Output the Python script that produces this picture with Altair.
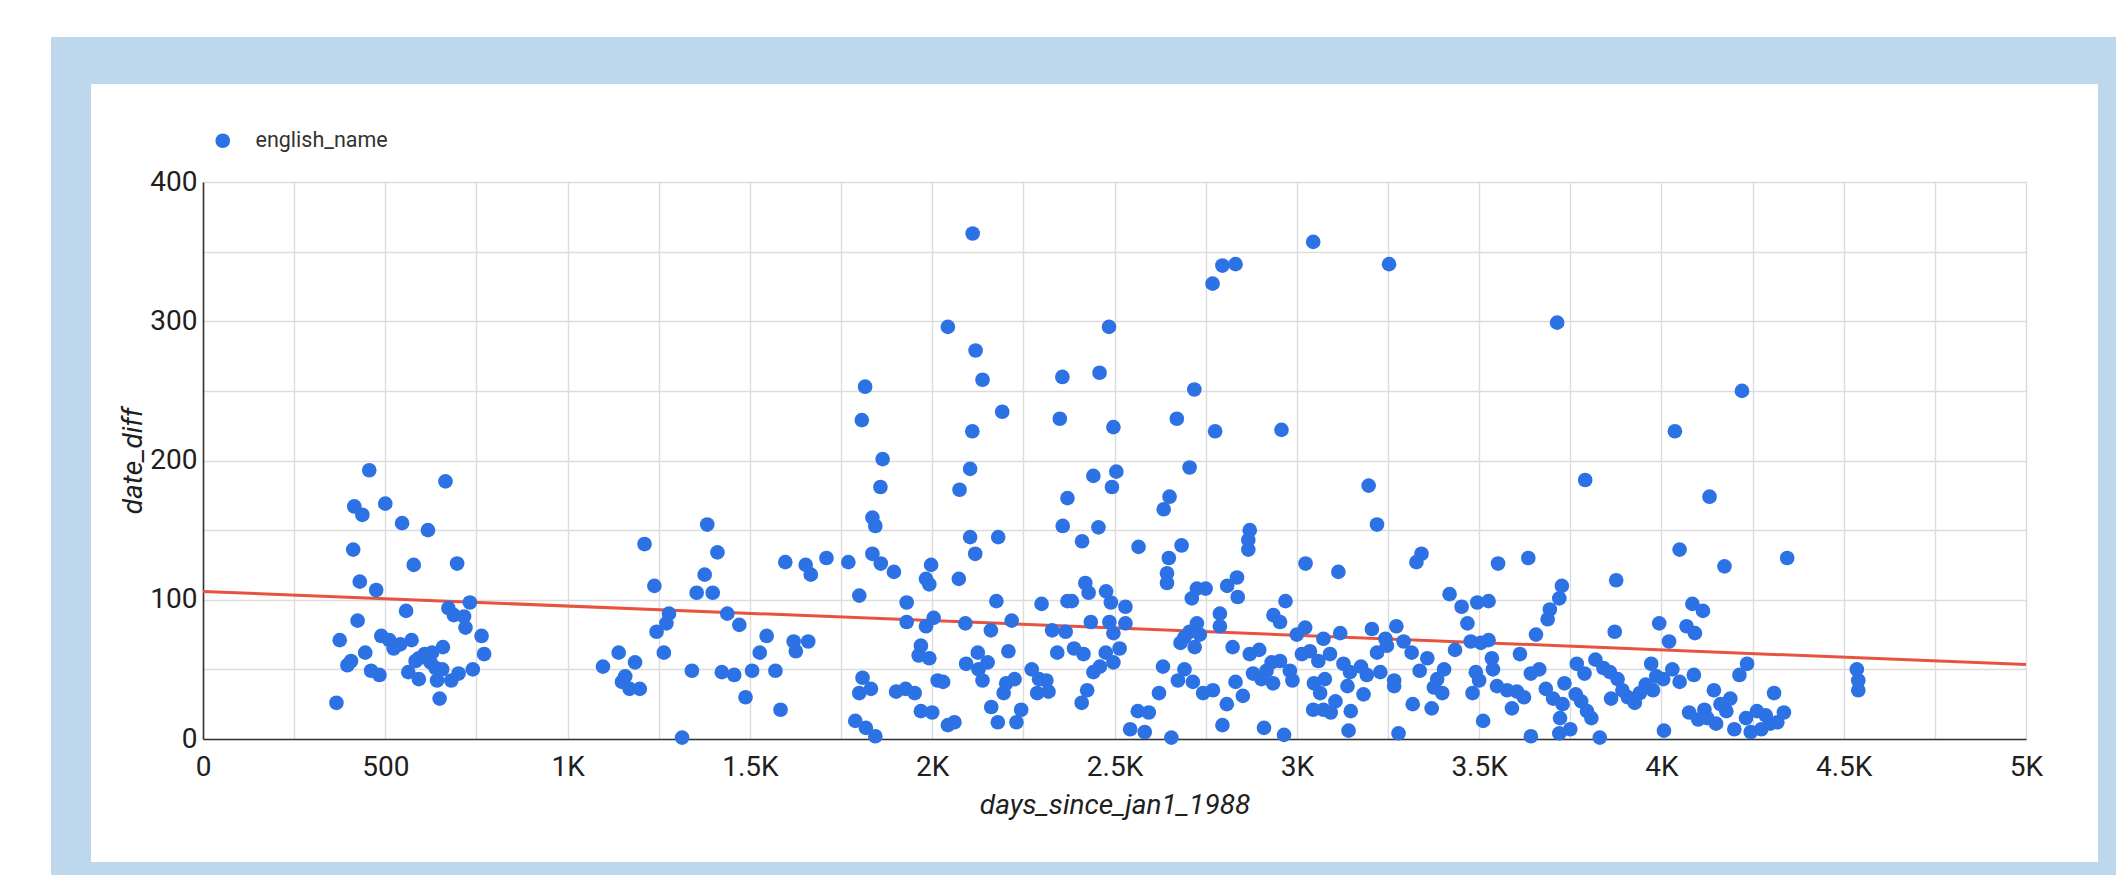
import altair as alt
import pandas as pd

# ---- data ----
days = [
    456, 665, 415, 437, 500, 546, 617, 412, 578, 697, 430, 475, 732, 673, 557, 688, 716, 720, 424, 375,
    764, 489, 511, 523, 541, 572, 445, 406, 396, 658, 771, 592, 608, 628, 583, 624, 638, 656, 461, 484,
    563, 592, 642, 681, 701, 740, 649, 366,
    1211, 1383, 1411, 1376, 1238, 1354, 1398, 1278, 1271, 1244, 1438, 1471, 1597, 1653, 1667, 1710,
    1546, 1527, 1620, 1626, 1660, 1140, 1185, 1097, 1158, 1149, 1170, 1198, 1264, 1341, 1423, 1457,
    1506, 1570, 1488, 1584, 1314,
    1807, 1864, 1858, 1836, 1844, 1770, 1836, 1859, 1895, 1800, 1997, 1983, 1992, 2073, 2110, 2192,
    2104, 2075, 2104, 2181, 2118, 2350, 2497, 2442, 2505, 2493, 2371, 2358, 2456, 2411, 2420, 2429,
    2477, 2490, 2371, 2383, 2300, 2176, 1930, 1930, 1983, 2004, 2091, 2161, 2218, 2329, 2366, 2435,
    2486, 2497, 1969, 1963, 1992, 2125, 2209, 2343, 2389, 2415, 2476, 2093, 2152, 2127, 2138, 2273,
    2293, 2313, 2288, 2319, 2442, 2460, 2497, 2425, 2410, 1809, 1800, 1832, 1901, 1927, 1952, 2015,
    2030, 1969, 2000, 1789, 1818, 1844, 2043, 2061, 2162, 2180, 2196, 2203, 2226, 2231, 2244,
    2671, 2776, 2958, 2706, 2651, 2635, 3197, 3220, 2871, 2867, 2867, 2566, 2684, 2649, 2644, 2644,
    3024, 3114, 2726, 2750, 2712, 2809, 2836, 2838, 2969, 2936, 2954, 2789, 2789, 2530, 2530, 2726,
    2706, 2692, 2720, 2681, 2734, 2824, 3023, 3000, 3119, 3073, 3206, 3273, 3243, 3293, 3220, 3247,
    3091, 3014, 3036, 3059, 2871, 2897, 2931, 2954, 2981, 2880, 2903, 2935, 2917, 2988, 3047, 3077,
    3064, 3128, 3146, 3176, 3192, 3229, 3139, 3183, 3267, 3267, 3045, 3073, 3093, 3106, 3148, 3142,
    3279, 2965, 2910, 2796, 2656, 2543, 2583, 2564, 2594, 2622, 2633, 2674, 2692, 2715, 2743, 2770,
    2808, 2832, 2852, 2514,
    4037, 3791, 4050, 3342, 3328, 3552, 3635, 3876, 3727, 3720, 3694, 3688, 3656, 3419, 3452, 3495,
    3526, 3468, 3477, 3526, 3505, 3434, 3315, 3872, 3994, 4021, 4085, 4069, 4092, 3612, 3535, 3538,
    3358, 3337, 3404, 3385, 3376, 3399, 3318, 3370, 3491, 3500, 3482, 3549, 3577, 3604, 3623, 3590,
    3511, 3642, 3642, 3665, 3683, 3703, 3729, 3734, 3722, 3750, 3720, 3768, 3789, 3765, 3780, 3796,
    3808, 3831, 3819, 3841, 3859, 3880, 3862, 3893, 3908, 3927, 3941, 3957, 3977, 3972, 3986, 4005,
    4030, 4050, 4089, 4007, 4076, 4101,
    4132, 4221, 4173, 4345, 4114, 4235, 4214, 4144, 4309, 4189, 4162, 4178, 4118, 4126, 4150, 4200,
    4232, 4262, 4286, 4336, 4318, 4245, 4274, 4299, 4536, 4540, 4540,
    2111, 3045, 2796, 2832, 2769, 3253, 2043, 2485, 2119, 2138, 2357, 2459, 1816, 2719, 3714,
]

date_diff = [
    193, 185, 167, 161, 169, 155, 150, 136, 125, 126, 113, 107, 98, 94, 92, 89, 88, 80, 85, 71,
    74, 74, 71, 65, 68, 71, 62, 56, 53, 66, 61, 58, 61, 62, 56, 55, 51, 50, 49, 46,
    48, 43, 42, 42, 47, 50, 29, 26,
    140, 154, 134, 118, 110, 105, 105, 90, 83, 77, 90, 82, 127, 125, 118, 130,
    74, 62, 70, 63, 70, 62, 55, 52, 45, 41, 36, 36, 62, 49, 48, 46,
    49, 49, 30, 21, 1,
    229, 201, 181, 159, 153, 127, 133, 126, 120, 103, 125, 115, 111, 115, 221, 235,
    194, 179, 145, 145, 133, 230, 224, 189, 192, 181, 173, 153, 152, 142, 112, 105,
    106, 98, 99, 99, 97, 99, 98, 84, 81, 87, 83, 78, 85, 78, 77, 84,
    84, 76, 67, 60, 58, 62, 63, 62, 65, 61, 62, 54, 55, 50, 42, 50,
    43, 42, 33, 34, 48, 52, 55, 35, 26, 44, 33, 36, 34, 36, 33, 42,
    41, 20, 19, 13, 8, 2, 10, 12, 23, 12, 33, 40, 43, 12, 21,
    230, 221, 222, 195, 174, 165, 182, 154, 150, 143, 136, 138, 139, 130, 119, 112,
    126, 120, 108, 108, 101, 110, 116, 102, 99, 89, 84, 90, 81, 95, 83, 83,
    77, 73, 66, 69, 75, 66, 80, 75, 76, 72, 79, 81, 72, 70, 62, 67,
    61, 61, 63, 56, 61, 64, 55, 56, 49, 47, 43, 40, 49, 42, 40, 43,
    33, 54, 48, 52, 46, 48, 38, 32, 42, 38, 21, 21, 19, 27, 20, 6,
    4, 3, 8, 10, 1, 7, 5, 20, 19, 33, 52, 42, 50, 41, 33, 35,
    25, 41, 31, 65,
    221, 186, 136, 133, 127, 126, 130, 114, 110, 101, 93, 86, 75, 104, 95, 98,
    99, 83, 70, 71, 69, 64, 62, 77, 83, 70, 97, 81, 76, 61, 58, 50,
    58, 49, 50, 43, 37, 33, 25, 22, 48, 42, 33, 38, 35, 34, 30, 22,
    13, 2, 47, 50, 36, 29, 25, 40, 15, 7, 4, 54, 47, 32, 27, 20,
    15, 1, 57, 51, 48, 43, 29, 35, 30, 26, 33, 39, 35, 54, 45, 43,
    50, 41, 46, 6, 19, 14,
    174, 250, 124, 130, 92, 54, 46, 35, 33, 29, 25, 20, 21, 15, 11, 7,
    15, 20, 17, 19, 12, 5, 7, 11, 50, 42, 35,
    363, 357, 340, 341, 327, 341, 296, 296, 279, 258, 260, 263, 253, 251, 299,
]

series_name = "english_name"

# trend line end points
trend_days = [0, 5000]
trend_diff = [106, 53.5]

x_ticks = [0, 250, 500, 750, 1000, 1250, 1500, 1750, 2000, 2250, 2500,
           2750, 3000, 3250, 3500, 3750, 4000, 4250, 4500, 4750, 5000]
y_ticks = [0, 50, 100, 150, 200, 250, 300, 350, 400]

BLUE = "#2d72e5"
RED = "#e8533f"
FRAME = "#bdd7ed"
FONT = "Roboto"

points_df = pd.DataFrame({
    "days_since_jan1_1988": days,
    "date_diff": date_diff,
    "series": [series_name] * len(days),
})
trend_df = pd.DataFrame({"days_since_jan1_1988": trend_days, "date_diff": trend_diff})

W, H = 1823, 557

x_axis = alt.Axis(
    values=x_ticks,
    labelExpr="datum.value % 500 != 0 ? '' : (datum.value == 0 ? '0' : (datum.value < 1000 ? '' + datum.value : (datum.value / 1000) + 'K'))",
    grid=True, gridColor="#dcdcdc", gridWidth=1.4,
    ticks=False, tickSize=0,
    domainColor="#333333", domainWidth=1.6,
    labelFont=FONT, labelFontSize=28, labelColor="#202020", labelPadding=14,
    labelFlush=False, labelOverlap=False,
    title="days_since_jan1_1988", titleFont=FONT, titleFontSize=28,
    titleFontStyle="italic", titleFontWeight="normal", titleColor="#202020", titlePadding=10,
)
y_axis = alt.Axis(
    values=y_ticks,
    labelExpr="datum.value % 100 != 0 ? '' : datum.label",
    grid=True, gridColor="#dcdcdc", gridWidth=1.4,
    ticks=False, tickSize=0,
    domainColor="#333333", domainWidth=1.6,
    labelFont=FONT, labelFontSize=28, labelColor="#202020", labelPadding=6,
    labelFlush=False, labelOverlap=False,
    title="date_diff", titleFont=FONT, titleFontSize=28,
    titleFontStyle="italic", titleFontWeight="normal", titleColor="#202020", titlePadding=2,
)
x_scale = alt.Scale(domain=[0, 5000], nice=False, zero=False)
y_scale = alt.Scale(domain=[0, 400], nice=False, zero=False)

one = pd.DataFrame({"k": [0]})


def strip(x1, x2, y1, y2):
    return alt.Chart(one).mark_rect(fill=FRAME, strokeWidth=0).encode(
        x=alt.value(x1), x2=alt.value(x2), y=alt.value(y1), y2=alt.value(y2)
    )


frame = [
    strip(-152, 1921, -145, -98),
    strip(-152, 1921, 680, 700),
    strip(-152, -112, -145, 700),
    strip(1895, 1921, -145, 700),
]

trend = alt.Chart(trend_df).mark_line(color=RED, strokeWidth=3, clip=True).encode(
    x=alt.X("days_since_jan1_1988:Q", scale=x_scale, axis=x_axis),
    y=alt.Y("date_diff:Q", scale=y_scale, axis=y_axis),
)

points = alt.Chart(points_df).mark_circle(size=215, opacity=1).encode(
    x=alt.X("days_since_jan1_1988:Q", scale=x_scale, axis=x_axis),
    y=alt.Y("date_diff:Q", scale=y_scale, axis=y_axis),
    color=alt.Color(
        "series:N",
        scale=alt.Scale(domain=[series_name], range=[BLUE]),
        legend=alt.Legend(
            orient="none", legendX=9, legendY=-52, title=None,
            labelFont=FONT, labelFontSize=21.5, labelColor="#333333",
            symbolType="circle", symbolSize=215, symbolStrokeWidth=0,
            labelOffset=22, padding=0,
        ),
    ),
)

chart = alt.layer(*frame, trend, points).properties(
    width=W, height=H,
    padding={"left": 195, "top": 174, "right": 90, "bottom": 136},
    autosize=alt.AutoSizeParams(type="none"),
    background="white",
).configure_view(strokeWidth=0).configure(font=FONT)

chart.save("out.html", embed_options={"renderer": "svg", "actions": False})
